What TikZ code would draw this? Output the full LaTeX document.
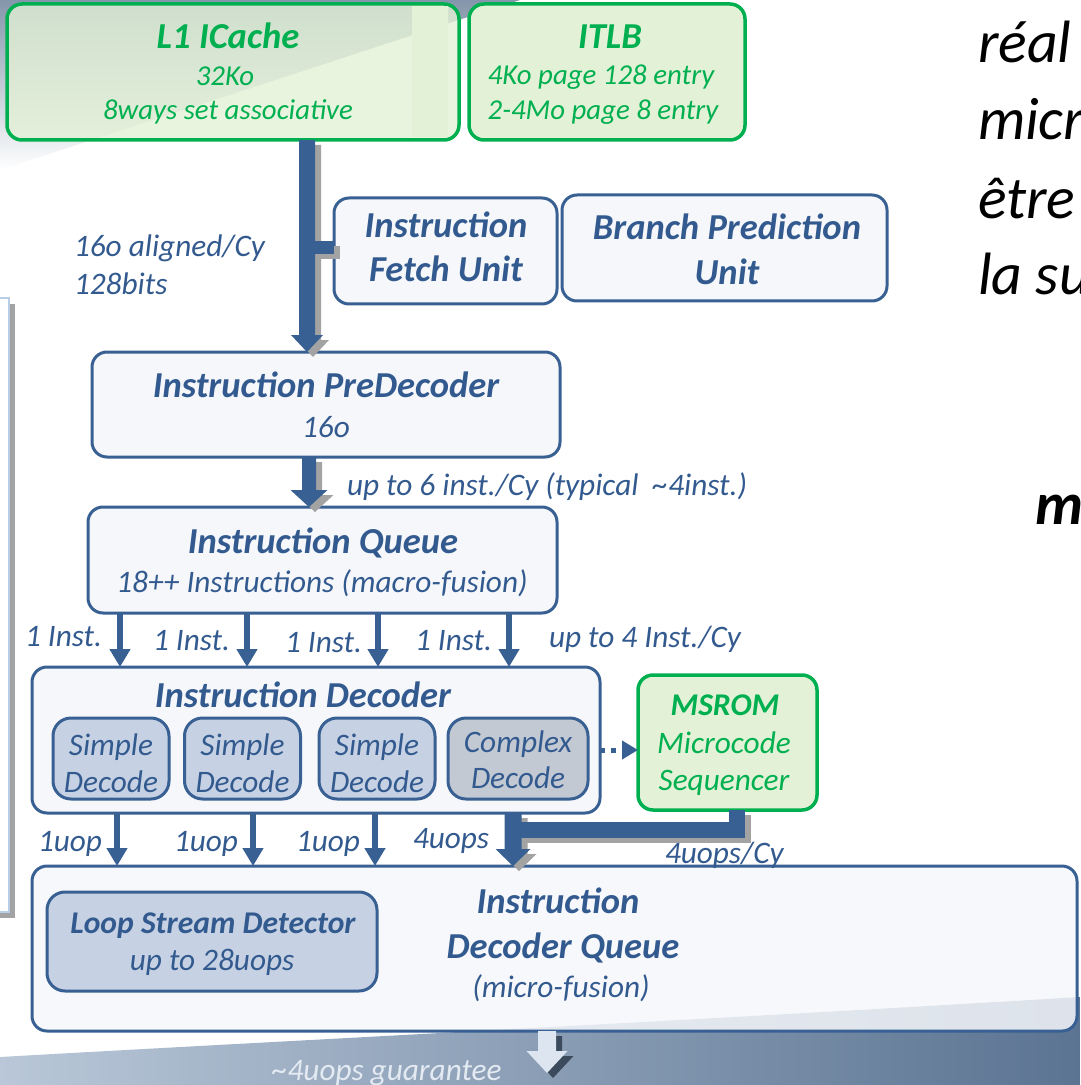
\documentclass[tikz,border=0pt]{standalone}
\usepackage{fontspec}
\setmainfont{Carlito}
\usetikzlibrary{calc,arrows.meta}

\definecolor{boxblue}{HTML}{386092}
\definecolor{txtblue}{HTML}{335A8F}
\definecolor{boxfill}{HTML}{F5F7FB}
\definecolor{decfill}{HTML}{C6D2E3}
\definecolor{cplxfill}{HTML}{C2C9D3}
\definecolor{cachegreen}{HTML}{00B050}
\definecolor{cachefill}{HTML}{E3F1D6}
\definecolor{shadowgray}{HTML}{A3A3A3}
\definecolor{panelblue}{HTML}{B8CDE6}
\definecolor{swoopL}{HTML}{B9C7D8}
\definecolor{swoopM}{HTML}{8799B1}
\definecolor{swoopR}{HTML}{5B7492}
\definecolor{pale}{HTML}{DCE5F0}
\definecolor{palelabel}{HTML}{E4EAF2}
\definecolor{darkshadow}{HTML}{3C4A5E}
\definecolor{cornergray}{HTML}{8496AB}

\newcommand\hwTitle{\fontsize{10.4}{12}\selectfont\bfseries\itshape}
\newcommand\hwSmallTitle{\fontsize{9}{11}\selectfont\bfseries\itshape}
\newcommand\hwSub{\fontsize{8.2}{10}\selectfont\itshape}
\newcommand\hwText{\fontsize{8.9}{11}\selectfont\itshape}
\newcommand\hwSlide{\fontsize{17}{20}\selectfont\itshape}

% wide block arrow pointing down, from #1 to #2
% #3 half shaft width, #4 half head width, #5 head length
\newcommand\fatarrow[5]{%
  \fill ($(#1)+(-#3,0)$) -- ($(#2)+(-#3,-#5)$) -- ($(#2)+(-#4,-#5)$) -- (#2)
     -- ($(#2)+(#4,-#5)$) -- ($(#2)+(#3,-#5)$) -- ($(#1)+(#3,0)$) -- cycle;}

\begin{document}
\begin{tikzpicture}[x=0.1mm,y=-0.1mm,
  every node/.style={inner sep=0pt, outer sep=0pt},
  bluebox/.style={draw=boxblue, line width=0.3mm, fill=boxfill, rounded corners=1.5mm},
  greenbox/.style={draw=cachegreen, line width=0.35mm, fill=cachefill, rounded corners=1.5mm},
  unitbox/.style={draw=boxblue, line width=0.3mm, fill=decfill, rounded corners=1.8mm},
  txttitle/.style={font=\hwTitle, text=txtblue, anchor=base},
  txtsub/.style={font=\hwSub, text=txtblue, anchor=base},
  txtplain/.style={font=\hwText, text=txtblue, anchor=base},
  txtlabel/.style={font=\hwText, text=txtblue, anchor=base west},
  thinarrow/.style={draw=boxblue, line width=0.55mm, -{Triangle[width=2mm,length=1.8mm]}},
  ]
\useasboundingbox (0,0) rectangle (1080,1085);
\clip (0,0) rectangle (1080,1085);

% slide background
\shade[shading angle=20, top color=cornergray, middle color=white, bottom color=white]
  (0,0) -- (520,0) -- (0,170) -- cycle;
\shade[left color=swoopL, middle color=swoopM, right color=swoopR]
  (0,1057) .. controls (300,1040) and (700,1020) .. (1080,997) -- (1080,1085) -- (0,1085) -- cycle;

% side panel
\fill[shadowgray] (-25,304) rectangle (15,918);
\draw[panelblue, line width=0.25mm, fill=white] (-30,298) rectangle (9,912);

% right-hand slide text
\node[font=\hwSlide, anchor=base west] (r1) at (978,63) {réal};
\node[font=\hwSlide, anchor=base west] (r2) at (978,140) {micr};
\node[font=\hwSlide, anchor=base west] (r3) at (978,219) {être};
\node[font=\hwSlide, anchor=base west] (r4) at (978,294) {la su};
\node[font=\hwSlide\bfseries, anchor=base west] (r5) at (1035,524) {m};

% cache and TLB
\node[greenbox, fill opacity=0.8, minimum width=45.2mm, minimum height=13.6mm] (l1) at (233,72) {};
\shade[left color=cachefill, middle color=white, right color=cachefill] (412,7) rectangle (448,137);
\node[txttitle, text=cachegreen] (l1t) at (228,49) {L1 ICache};
\node[txtsub, text=cachegreen] (l1a) at (225,86) {32Ko};
\node[txtsub, text=cachegreen] (l1b) at (228,120) {8ways set associative};

\node[greenbox, minimum width=27.6mm, minimum height=13.6mm] (itlb) at (607,72) {};
\node[txttitle, text=cachegreen] (itlbt) at (610,49) {ITLB};
\node[txtsub, text=cachegreen] (itlba) at (601,85) {4Ko page 128 entry};
\node[txtsub, text=cachegreen] (itlbb) at (603,120) {2-4Mo page 8 entry};

% fetch and branch prediction
\node[bluebox, minimum width=22.3mm, minimum height=10.6mm] (ifu) at (445.5,251) {};
\node[txttitle] (ifua) at (446,238) {Instruction};
\node[txttitle] (ifub) at (446,282) {Fetch Unit};

\node[bluebox, minimum width=32.5mm, minimum height=10.6mm] (bpu) at (724.5,248) {};
\node[txttitle] (bpua) at (727,240) {Branch Prediction};
\node[txttitle] (bpub) at (727,285) {Unit};

% predecoder and queue
\node[bluebox, minimum width=46.8mm, minimum height=10.5mm] (pred) at (326,404.5) {};
\node[txttitle] (preda) at (326,397) {Instruction PreDecoder};
\node[txtplain] (predb) at (326,437) {16o};

\node[bluebox, minimum width=46.9mm, minimum height=10.6mm] (iq) at (322.5,560) {};
\node[txttitle] (iqa) at (323,553) {Instruction Queue};
\node[txtplain] (iqb) at (322,592) {18++ Instructions (macro-fusion)};

% decoders
\node[bluebox, minimum width=56.8mm, minimum height=14.6mm] (dec) at (316,740) {};
\node[txttitle] (deca) at (303,707) {Instruction Decoder};
\foreach \n/\x in {sd1/111, sd2/242.5, sd3/377} {
  \node[unitbox, minimum width=11.6mm, minimum height=8.1mm] (\n) at (\x,758.5) {};
  \node[txtplain] (\n a) at (\x,755) {Simple};
  \node[txtplain] (\n b) at (\x,792) {Decode};
}
\node[unitbox, fill=cplxfill, minimum width=14mm, minimum height=8.1mm] (cd) at (518,758.5) {};
\node[txtplain] (cda) at (518,752) {Complex};
\node[txtplain] (cdb) at (518,788) {Decode};

\node[greenbox, minimum width=17.9mm, minimum height=13.5mm] (ms) at (727.5,742.5) {};
\node[txttitle, font=\hwSmallTitle, text=cachegreen] (msa) at (725,715) {MSROM};
\node[txtplain, text=cachegreen] (msb) at (724,753) {Microcode};
\node[txtplain, text=cachegreen] (msc) at (724,790) {Sequencer};

% decoded instruction queue
\node[bluebox, fill opacity=0.85, minimum width=104.5mm, minimum height=16.5mm] (idq) at (554.5,948.5) {};
\node[unitbox, minimum width=33mm, minimum height=9.9mm] (lsd) at (212,941.5) {};
\node[txttitle, font=\hwSmallTitle] (lsda) at (213,933) {Loop Stream Detector};
\node[txtplain] (lsdb) at (212,970) {up to 28uops};
\node[txttitle] (idqa) at (558,913) {Instruction};
\node[txttitle] (idqb) at (563,958) {Decoder Queue};
\node[txtplain] (idqc) at (561,997) {(micro-fusion)};

% connector reference points
\coordinate (xa) at (307,0);
\coordinate (xp) at (309,0);
\coordinate (xb) at (513,0);
\coordinate (xc) at (547,0);
\coordinate (mx) at (736.5,0);
\coordinate (my) at (0,829.5);
\coordinate (by) at (0,247.5);
\coordinate (dy) at (0,750);
\coordinate (a1) at (xa |- l1.south);
\coordinate (a2) at (xa |- pred.north);
\coordinate (p1) at (xp |- pred.south);
\coordinate (p2) at (xp |- iq.north);
\coordinate (g1) at (xb |- dec.south);
\coordinate (g2) at (xb |- idq.north);
\coordinate (q1) at (xc |- idq.south);
\coordinate (q2) at (547,1073);

% arrow shadows
\begin{scope}[fill=shadowgray, transform canvas={shift={(0.6mm,-0.5mm)}}]
  \fatarrow{a1}{a2}{8}{16}{17}
  \draw[shadowgray, line width=1.3mm] (by -| xa) -- (by -| ifu.west);
  \fatarrow{p1}{p2}{7}{18.5}{17}
  \fatarrow{g1}{g2}{8.5}{17.5}{17}
  \draw[shadowgray, line width=1.6mm] (mx |- ms.south) |- (my -| xb);
\end{scope}
\begin{scope}[fill=darkshadow, transform canvas={shift={(0.6mm,-0.5mm)}}]
  \fatarrow{q1}{q2}{9}{20.5}{22}
\end{scope}

% arrows
\begin{scope}[fill=boxblue]
  \fatarrow{a1}{a2}{8}{16}{17}
  \draw[boxblue, line width=1.3mm] (by -| xa) -- (by -| ifu.west);
  \fatarrow{p1}{p2}{7}{18.5}{17}
  \draw[boxblue, line width=1.6mm] (mx |- ms.south) |- (my -| xb);
  \fatarrow{g1}{g2}{8.5}{17.5}{17}
\end{scope}
\begin{scope}[fill=pale]
  \fatarrow{q1}{q2}{9}{20.5}{22}
\end{scope}

\foreach \x [count=\i] in {120,247,378,509} {
  \coordinate (qi\i) at (\x,0);
  \draw[thinarrow] (qi\i |- iq.south) -- (qi\i |- dec.north);
}
\foreach \x [count=\i] in {117,253,375} {
  \coordinate (du\i) at (\x,0);
  \draw[thinarrow] (du\i |- dec.south) -- (du\i |- idq.north);
}
\draw[boxblue, line width=0.5mm, dash pattern=on 0.5mm off 0.6mm,
  -{Triangle[width=1.8mm,length=1.6mm]}] (dy -| dec.east) -- (dy -| ms.west);

% connector labels
\node[txtlabel] (la) at (74,257) {16o aligned/Cy};
\node[txtlabel] (lb) at (74,295) {128bits};
\node[txtlabel] (lc) at (347,495) {up to 6 inst./Cy (typical\ \ \textasciitilde4inst.)};
\node[txtlabel] (ld1) at (25,646) {1 Inst.};
\node[txtlabel] (ld2) at (153,650) {1 Inst.};
\node[txtlabel] (ld3) at (285,652) {1 Inst.};
\node[txtlabel] (ld4) at (415,650) {1 Inst.};
\node[txtlabel] (ld5) at (549,647) {up to 4 Inst./Cy};
\node[txtlabel] (le1) at (38,851) {1uop};
\node[txtlabel] (le2) at (174,851) {1uop};
\node[txtlabel] (le3) at (296,851) {1uop};
\node[txtlabel] (le4) at (413,848) {4uops};
\node[txtlabel] (le5) at (665,863) {4uops/Cy};
\node[txtlabel, text=palelabel] (lf) at (272,1080) {\textasciitilde4uops guarantee};
\end{tikzpicture}
\end{document}
